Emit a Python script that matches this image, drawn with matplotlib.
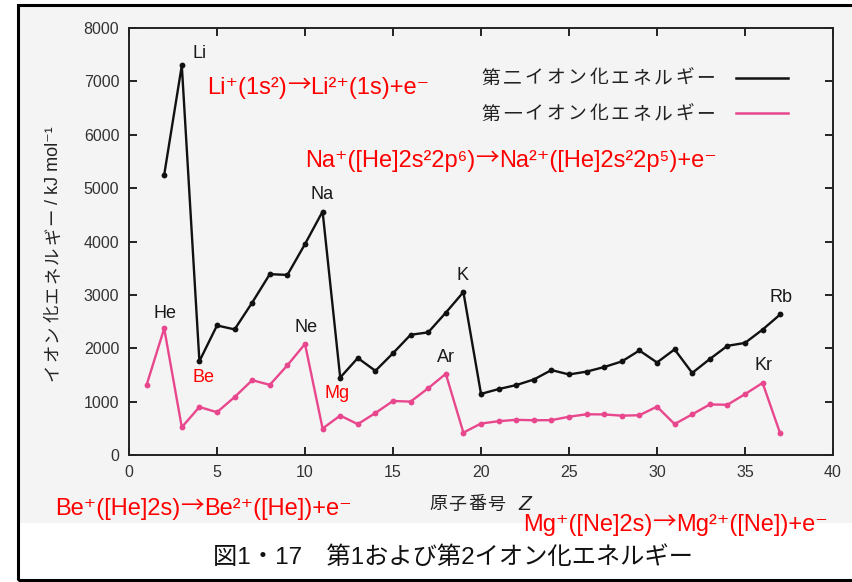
import matplotlib
matplotlib.use("Agg")
import matplotlib.pyplot as plt
from matplotlib.patches import Rectangle
from matplotlib.lines import Line2D

FAM = ['Liberation Sans', 'Noto Sans CJK JP', 'DejaVu Sans']
plt.rcParams['font.family'] = FAM

# ---- data (kJ/mol) ----
z_first = list(range(1, 38))
ie_first = [1312, 2372, 520, 900, 801, 1086, 1402, 1314, 1681, 2081,
            496, 738, 578, 787, 1012, 1000, 1251, 1521, 419, 590,
            633, 659, 651, 653, 717, 763, 760, 737, 745, 906,
            579, 762, 947, 941, 1140, 1351, 403]
z_second = list(range(2, 38))
ie_second = [5250, 7298, 1757, 2427, 2353, 2856, 3388, 3374, 3952, 4562,
             1451, 1817, 1577, 1907, 2252, 2298, 2666, 3052, 1145, 1235,
             1310, 1414, 1591, 1509, 1562, 1648, 1753, 1958, 1733, 1979,
             1537, 1798, 2045, 2100, 2350, 2633]
x_ticks = [0, 5, 10, 15, 20, 25, 30, 35, 40]
y_ticks = [0, 1000, 2000, 3000, 4000, 5000, 6000, 7000, 8000]

W, H = 852, 582
fig = plt.figure(figsize=(W / 100, H / 100), dpi=100)

def P(x, y):
    return (x / W, 1 - y / H)

def spaced(x0, y, s, pitch, size, color='#222222', rotation=0):
    # place characters individually for wide letter spacing
    for i, ch in enumerate(s):
        if rotation == 90:
            fig.text(*P(x0, y - i * pitch), ch, ha='center', va='center',
                     fontsize=size, color=color, rotation=90)
        else:
            fig.text(*P(x0 + i * pitch, y), ch, ha='center', va='center',
                     fontsize=size, color=color)

# background panel (scanned page tint) and frame
fig.patches.append(Rectangle(P(18, 523), (852 - 18) / W, (523 - 5) / H,
                             transform=fig.transFigure, facecolor='#f4f4f4',
                             edgecolor='none', zorder=-5))
fig.patches.append(Rectangle(P(18, 580), (860 - 18) / W, (580 - 5) / H,
                             transform=fig.transFigure, facecolor='none',
                             edgecolor='black', lw=2.2, zorder=5))

ax = fig.add_axes([129 / W, 1 - 455 / H, (833 - 129) / W, (455 - 28) / H])
ax.set_facecolor('none')
pink = '#e8478d'
ax.plot(z_second, ie_second, color='#111111', lw=1.7, marker='o', ms=4.2,
        markerfacecolor='#111111', markeredgewidth=0)
ax.plot(z_first, ie_first, color=pink, lw=1.7, marker='o', ms=4.2,
        markerfacecolor=pink, markeredgewidth=0)
ax.set_xlim(0, 40)
ax.set_ylim(0, 8000)
ax.set_xticks(x_ticks)
ax.set_yticks(y_ticks)
ax.tick_params(direction='in', length=6, width=1.2, top=True, right=True,
               labelsize=11.5, labelcolor='#333333', pad=7)
for s in ax.spines.values():
    s.set_linewidth(1.4)
    s.set_color('#222222')

# axis labels
spaced(438, 505, '原子番号', 19.5, 13)
fig.text(*P(525, 504), 'Z', ha='center', va='center', fontsize=15,
         style='italic', color='#222222')
spaced(53, 372, 'イオン化エネルギー', 19.5, 12.5, rotation=90)
fig.text(*P(53, 204), '/ kJ mol⁻¹', ha='center', va='bottom', rotation=90,
         fontsize=13, color='#222222')

# legend
spaced(491, 79, '第二イオン化エネルギー', 21.5, 13.5)
spaced(491, 115, '第一イオン化エネルギー', 21.5, 13.5)
fig.lines.append(Line2D([736 / W, 788 / W], [1 - 78 / H, 1 - 78 / H],
                        transform=fig.transFigure, color='#111111', lw=1.8))
fig.lines.append(Line2D([736 / W, 788 / W], [1 - 113 / H, 1 - 113 / H],
                        transform=fig.transFigure, color=pink, lw=1.8))

# element labels
black_labels = [('Li', 200, 53), ('Na', 322, 195), ('K', 463, 275),
                ('Rb', 781, 297), ('He', 165, 313), ('Ne', 306, 328),
                ('Ar', 446, 358), ('Kr', 764, 366)]
for t, x, y in black_labels:
    fig.text(*P(x, y), t, ha='center', va='center', fontsize=13,
             color='#1a1a1a')
for t, x, y in [('Be', 204, 378), ('Mg', 337, 393)]:
    fig.text(*P(x, y), t, ha='center', va='center', fontsize=13, color='red')

# red reaction annotations: left part, long thin arrow, right part
red = '#ff0000'
def reaction(x, y, left, right, size=17):
    t1 = fig.text(*P(x, y), left, ha='left', va='center', fontsize=size,
                  color=red)
    t2 = ax.annotate('→', xy=(1, 0.6), xycoords=t1, ha='left',
                     va='center', fontsize=size, color=red,
                     family='Noto Sans CJK JP', annotation_clip=False)
    ax.annotate(right, xy=(1, 0.5), xycoords=(t2, t1), ha='left',
                va='center', fontsize=size, color=red, annotation_clip=False)

reaction(207, 88, 'Li⁺(1s²)', 'Li²⁺(1s)+e⁻')
reaction(305, 161, 'Na⁺([He]2s²2p⁶)', 'Na²⁺([He]2s²2p⁵)+e⁻')
reaction(55, 509, 'Be⁺([He]2s)', 'Be²⁺([He])+e⁻')
reaction(523, 525, 'Mg⁺([Ne]2s)', 'Mg²⁺([Ne])+e⁻')

# caption
fig.text(*P(453, 558), '図1・17\u3000第1および第2イオン化エネルギー',
         ha='center', va='center', fontsize=17.5, color='#111111')

fig.savefig('out.png', dpi=100)
